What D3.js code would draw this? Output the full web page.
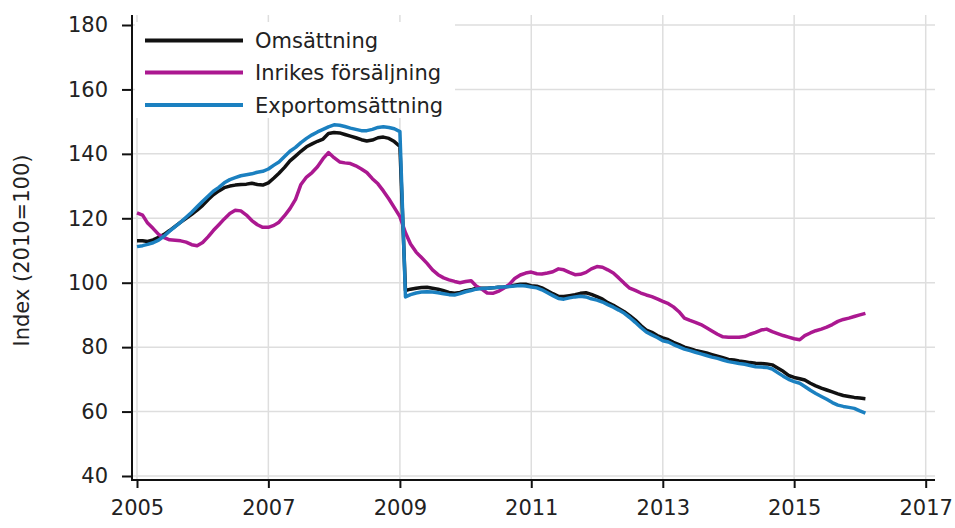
<!DOCTYPE html>
<html>
<head>
<meta charset="utf-8">
<script src="https://cdn.jsdelivr.net/npm/d3@7"></script>
<style>
  body { margin: 0; background: #fff; }
  svg { display: block; font-family: "DejaVu Sans", sans-serif; }
</style>
</head>
<body>
<div id="chart"></div>
<script>
// Monthly index values, Jan 2005 - Feb 2016 (2010=100)
const firstMonth = new Date(2005, 0, 1);
const seriesNames = ["Omsättning", "Inrikes försäljning", "Exportomsättning"];
const seriesColors = ["#111111", "#ab1890", "#1b80c0"];

const omsattning = [
  113.0, 113.0, 112.8, 113.3, 114.1, 115.0, 116.2, 117.5, 118.8, 120.0, 121.2, 122.5,
  124.0, 125.8, 127.3, 128.5, 129.5, 130.0, 130.3, 130.5, 130.6, 130.9, 130.5, 130.3,
  131.0, 132.5, 134.0, 135.8, 137.8, 139.3, 140.8, 142.2, 143.1, 143.9, 144.6, 146.3,
  146.6, 146.5, 146.0, 145.5, 145.0, 144.4, 144.0, 144.3, 145.0, 145.2, 144.8, 143.8,
  142.3, 97.6, 98.0, 98.3, 98.5, 98.6, 98.3, 98.0, 97.5, 97.0, 96.7, 97.0,
  97.5, 97.8, 98.3, 98.3, 98.3, 98.4, 98.6, 98.7, 98.9, 99.2, 99.5, 99.5,
  99.1, 98.9, 98.4, 97.5, 96.6, 95.8, 95.7, 96.0, 96.3, 96.7, 96.9, 96.4,
  95.7, 94.9, 93.8, 93.0, 92.0, 91.0, 89.8, 88.4, 86.7, 85.3, 84.6, 83.6,
  82.9, 82.3, 81.5, 80.8, 80.0, 79.5, 79.0, 78.6, 78.2, 77.7, 77.2, 76.7,
  76.2, 76.0, 75.7, 75.5, 75.2, 75.0, 74.9, 74.8, 74.5, 73.5, 72.5, 71.2,
  70.6, 70.2, 69.8, 68.8, 68.0, 67.3, 66.7, 66.1, 65.5, 65.0, 64.7, 64.4,
  64.2, 64.0
];

const inrikes = [
  121.7, 121.0, 118.5, 116.8, 115.0, 114.0, 113.3, 113.2, 113.0, 112.6, 111.8, 111.5,
  112.5, 114.3, 116.2, 118.0, 119.8, 121.5, 122.5, 122.3, 121.0, 119.3, 118.0, 117.2,
  117.2, 117.8, 118.8, 120.8, 123.0, 125.9, 130.5, 132.8, 134.2, 136.0, 138.5, 140.4,
  138.8, 137.5, 137.2, 137.0, 136.3, 135.3, 134.2, 132.3, 130.7, 128.5, 126.0, 123.3,
  120.5, 115.5, 112.0, 109.5, 107.8, 106.0, 104.0, 102.5, 101.5, 100.9, 100.4, 100.0,
  100.4, 100.6, 99.0, 98.0, 96.8, 96.7, 97.3, 98.3, 99.5, 101.3, 102.4, 103.0,
  103.3, 102.8, 102.7, 103.0, 103.4, 104.3, 104.0, 103.2, 102.5, 102.6, 103.2, 104.3,
  105.0, 104.8, 104.0, 103.0, 101.5, 99.8, 98.3, 97.6, 96.8, 96.2, 95.7, 95.0,
  94.2, 93.5, 92.5, 91.0, 89.0, 88.3, 87.7, 87.0, 86.0, 85.0, 84.0, 83.2,
  83.1, 83.1, 83.1, 83.3, 84.0, 84.6, 85.3, 85.6, 84.8, 84.2, 83.6, 83.1,
  82.6, 82.3, 83.6, 84.4, 85.1, 85.6, 86.2, 87.0, 88.0, 88.6, 89.0, 89.5,
  90.0, 90.5
];

const exportoms = [
  111.2, 111.5, 111.9, 112.4, 113.2, 114.5, 116.0, 117.4, 118.8, 120.3, 121.9, 123.6,
  125.3, 126.9, 128.4, 129.6, 131.0, 132.0, 132.6, 133.2, 133.5, 133.8, 134.3, 134.6,
  135.3, 136.5, 137.5, 139.2, 140.8, 142.0, 143.5, 144.8, 145.9, 146.8, 147.6, 148.4,
  149.0, 148.9, 148.5, 148.0, 147.6, 147.2, 147.2, 147.6, 148.2, 148.4, 148.2, 147.8,
  146.9, 95.6, 96.3, 96.8, 97.1, 97.2, 97.1, 96.9, 96.6, 96.3, 96.2, 96.6,
  97.2, 97.6, 98.0, 98.2, 98.3, 98.4, 98.6, 98.7, 98.8, 99.0, 99.1, 99.0,
  98.7, 98.4, 97.8, 96.9, 96.0, 95.1, 94.9, 95.3, 95.6, 95.8, 95.6, 95.0,
  94.6, 94.0, 93.2, 92.4, 91.5, 90.5, 89.2, 87.7, 86.1, 84.7, 83.8, 83.0,
  82.0, 81.6, 80.8, 80.1, 79.4, 78.9, 78.4, 77.9, 77.4, 76.9, 76.5, 76.0,
  75.5, 75.2, 74.9, 74.7, 74.3, 73.9, 73.8, 73.7, 73.2, 72.1, 71.0, 70.0,
  69.3, 68.8, 67.8, 66.6, 65.6, 64.7, 63.8, 62.8, 62.0, 61.6, 61.3, 61.0,
  60.2, 59.5
];

const yTicks = [40, 60, 80, 100, 120, 140, 160, 180];
const xTickYears = [2005, 2007, 2009, 2011, 2013, 2015, 2017];
const yLabel = "Index (2010=100)";

// Size and layout
const w = 955, h = 528;
const plotLeft = 132, plotRight = 935, plotTop = 15, plotBottom = 480;

const svg = d3.select("#chart").append("svg").attr("width", w).attr("height", h);

const months = d3.range(omsattning.length).map(i => d3.timeMonth.offset(firstMonth, i));
const allSeries = [omsattning, inrikes, exportoms];

const xScale = d3.scaleTime()
  .domain([new Date(2005, 0, 1), new Date(2017, 0, 1)])
  .range([137, 925.7]);
const yScale = d3.scaleLinear().domain([40, 180]).range([476, 25]);

// Grid
const grid = svg.append("g").attr("stroke", "#dedede").attr("stroke-width", 1.5);
grid.selectAll("line.h").data(yTicks).enter().append("line")
  .attr("x1", plotLeft).attr("x2", plotRight)
  .attr("y1", d => yScale(d)).attr("y2", d => yScale(d));
grid.selectAll("line.v").data(xTickYears).enter().append("line")
  .attr("x1", d => xScale(new Date(d, 0, 1))).attr("x2", d => xScale(new Date(d, 0, 1)))
  .attr("y1", plotTop).attr("y2", plotBottom);

// Legend background covers the grid
svg.append("rect").attr("x", 135).attr("y", 22).attr("width", 320).attr("height", 96).attr("fill", "#fff");

// Lines
const line = d3.line()
  .x((d, i) => xScale(months[i]))
  .y(d => yScale(d));

svg.selectAll("path.series")
  .data(allSeries)
  .enter()
  .append("path")
  .attr("class", "series")
  .attr("fill", "none")
  .attr("stroke", (d, i) => seriesColors[i])
  .attr("stroke-width", 3.5)
  .attr("stroke-linejoin", "round")
  .attr("d", line);

// Y axis
const yAxis = d3.axisLeft(yScale).tickValues(yTicks).tickSize(10).tickPadding(14);
const gy = svg.append("g").attr("transform", "translate(" + plotLeft + ",0)").call(yAxis);
gy.select(".domain").remove();
gy.selectAll(".tick line").attr("stroke", "#111").attr("stroke-width", 2);
gy.selectAll("text").attr("font-size", 21).attr("fill", "#222")
  .attr("font-family", "DejaVu Sans, sans-serif");

// X axis
const xAxis = d3.axisBottom(xScale)
  .tickValues(xTickYears.map(y => new Date(y, 0, 1)))
  .tickFormat(d3.timeFormat("%Y"))
  .tickSize(8).tickPadding(12);
const gx = svg.append("g").attr("transform", "translate(0," + plotBottom + ")").call(xAxis);
gx.select(".domain").remove();
gx.selectAll(".tick line").attr("stroke", "#111").attr("stroke-width", 2);
gx.selectAll("text").attr("font-size", 21).attr("fill", "#222")
  .attr("font-family", "DejaVu Sans, sans-serif");

// Axis lines
svg.append("line").attr("x1", plotLeft).attr("x2", plotLeft).attr("y1", plotTop).attr("y2", plotBottom + 1)
  .attr("stroke", "#111").attr("stroke-width", 2);
svg.append("line").attr("x1", plotLeft).attr("x2", plotRight).attr("y1", plotBottom).attr("y2", plotBottom)
  .attr("stroke", "#111").attr("stroke-width", 2);

// Y label
svg.append("text")
  .attr("transform", "translate(29," + ((25 + 476) / 2) + ") rotate(-90)")
  .attr("text-anchor", "middle")
  .attr("font-size", 21)
  .attr("fill", "#222")
  .text(yLabel);

// Legend
const legend = svg.append("g");
const legendRows = [40.5, 72.5, 105];
seriesNames.forEach((name, i) => {
  legend.append("line")
    .attr("x1", 145).attr("x2", 243)
    .attr("y1", legendRows[i]).attr("y2", legendRows[i])
    .attr("stroke", seriesColors[i]).attr("stroke-width", 4);
  legend.append("text")
    .attr("x", 255).attr("y", legendRows[i]).attr("dy", "0.36em")
    .attr("font-size", 21).attr("fill", "#222")
    .text(name);
});
</script>
</body>
</html>
